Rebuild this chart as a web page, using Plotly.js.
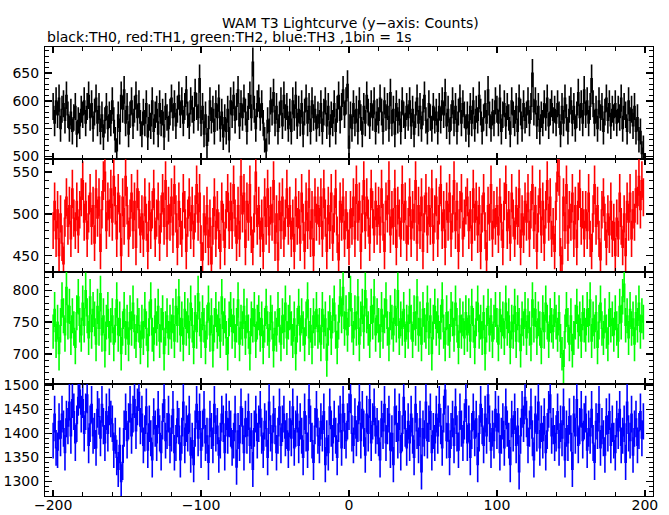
<!DOCTYPE html>
<html>
<head>
<meta charset="utf-8">
<script src="https://cdn.plot.ly/plotly-3.0.1.min.js"></script>
<style>html,body{margin:0;padding:0;background:#fff;}#chart{width:669px;height:515px;}</style>
</head>
<body>
<div id="chart"></div>
<script>
// Bin start time (s), 1 bin = 1 s
const tStart = -200;
const nBins = 400;

// TH0 counts (black)
const th0 = [
590,560,600,575,605,550,585,595,565,610,575,550,580,545,570,590,540,565,555,585,
575,600,560,590,610,570,595,550,580,605,560,590,545,575,535,565,590,550,575,560,
600,565,530,510,575,545,610,585,620,560,590,540,575,600,555,585,610,570,595,560,
540,580,560,595,535,570,555,600,545,575,585,540,595,560,580,535,590,570,550,580,
605,570,595,555,585,610,575,600,560,590,620,575,555,600,585,565,615,590,570,640,
560,590,540,575,520,550,600,565,585,545,595,570,605,550,580,535,570,545,585,530,
600,575,610,565,590,620,555,595,570,605,580,545,590,610,570,670,585,550,595,605,
570,595,560,530,510,565,545,600,580,615,560,590,545,575,600,555,610,570,590,550,
580,545,600,570,610,555,585,560,595,540,580,605,560,590,545,600,570,585,550,575,
560,595,545,580,600,555,590,540,575,560,595,545,585,610,565,590,620,575,600,630,
515,575,550,595,560,585,545,600,570,540,590,560,610,580,555,595,570,600,545,580,
565,605,580,545,600,570,590,550,615,560,585,540,595,565,580,545,600,575,555,590,
570,600,555,585,540,575,605,560,590,550,580,610,565,545,595,570,550,590,565,580,
545,590,565,600,575,615,555,585,545,570,600,560,590,545,580,605,560,595,575,550,
575,540,590,560,600,550,585,565,610,580,545,570,595,560,620,575,550,580,560,600,
585,560,605,545,575,595,555,590,570,540,600,575,560,590,545,605,580,550,595,565,
575,600,560,590,650,580,600,555,590,545,575,560,595,570,605,555,580,595,565,585,
560,595,575,540,590,560,605,570,545,585,600,560,590,550,575,615,570,595,560,620,
575,600,560,590,640,595,560,585,550,600,570,590,545,580,605,565,595,555,585,570,
595,560,585,570,605,550,590,575,545,600,565,585,555,590,545,570,530,545,505,515
];

// TH1 counts (red)
const th1 = [
480,515,470,505,450,500,465,440,495,520,485,510,470,530,495,480,515,475,505,520,
540,490,515,470,500,525,485,510,465,530,495,520,455,505,540,550,480,515,495,530,
490,545,510,470,525,500,450,520,485,545,510,470,495,525,480,515,460,530,505,475,
500,470,520,490,455,515,480,505,530,470,495,515,465,500,525,485,540,470,510,490,
520,475,535,500,460,515,485,470,525,505,455,495,520,480,510,470,500,535,490,525,
465,445,500,475,510,460,495,440,485,520,470,505,480,455,515,490,460,505,525,480,
515,480,535,495,465,510,470,545,500,525,460,515,490,535,475,460,500,550,485,510,
470,495,455,520,485,530,475,510,490,540,465,500,445,515,480,520,470,495,530,485,
510,470,495,455,520,485,505,465,525,490,455,515,480,530,470,505,450,520,490,510,
485,520,470,530,495,455,510,480,525,465,500,530,475,445,515,490,520,470,505,480,
460,505,485,520,470,535,490,515,455,500,540,480,520,495,465,530,505,475,515,485,
510,475,530,490,455,515,500,540,475,505,485,530,460,510,495,470,535,490,515,465,
485,520,470,505,490,540,465,510,480,520,455,500,525,475,510,485,530,465,500,520,
470,510,535,480,505,460,515,490,525,470,500,540,480,515,455,505,525,470,495,510,
520,480,505,465,530,490,515,475,510,455,500,525,480,445,510,490,535,470,505,485,
510,475,520,490,460,515,535,480,505,465,525,495,470,510,485,530,460,500,475,515,
490,525,470,505,535,480,510,455,500,530,475,515,465,505,540,490,520,470,485,455,
515,550,545,450,440,520,480,535,465,505,490,525,470,510,460,515,530,485,505,470,
505,480,525,470,455,500,535,485,510,470,445,505,520,490,460,500,475,515,470,490,
450,495,470,525,485,460,500,450,515,490,525,470,505,490,530,510,545,505,540,520
];

// TH2 counts (green)
const th2 = [
735,770,720,750,700,745,785,760,730,805,750,775,725,760,740,710,765,790,745,730,
780,745,800,760,725,790,735,770,755,715,775,740,795,730,760,705,750,770,725,745,
760,715,745,785,730,755,700,740,770,725,750,715,765,740,780,735,720,760,745,710,
750,725,770,740,705,755,785,730,715,760,740,775,720,745,765,700,740,760,725,750,
735,760,720,775,745,790,730,755,715,770,740,760,725,780,745,710,765,735,795,755,
720,765,745,710,750,780,730,760,705,745,770,735,755,720,790,740,760,725,700,755,
770,735,760,720,745,785,715,750,740,775,725,760,735,700,755,745,770,720,750,765,
730,755,710,745,775,740,720,765,750,705,740,730,770,745,715,760,735,780,725,750,
765,740,720,755,700,745,775,730,760,740,715,755,785,725,745,710,760,740,770,735,
745,715,770,735,755,690,740,765,725,760,780,735,710,750,790,760,805,740,765,730,
770,795,745,725,765,740,790,715,755,775,735,800,760,740,720,775,750,790,730,760,
745,720,770,735,760,785,740,715,765,750,730,775,745,800,725,755,740,770,720,750,
735,775,750,720,765,740,790,730,755,715,770,745,735,780,725,760,700,750,775,740,
760,725,750,785,735,715,765,740,720,770,755,730,780,745,710,760,735,755,725,765,
730,760,720,775,745,710,755,780,735,750,725,765,700,745,775,730,760,720,750,770,
745,715,770,735,755,725,780,740,760,710,750,735,775,720,765,745,705,755,740,770,
725,760,740,715,785,745,770,725,755,740,710,765,735,780,750,720,760,745,735,770,
750,730,765,720,700,680,735,770,745,715,760,705,725,750,775,735,755,720,765,745,
730,770,745,785,720,755,735,765,710,750,780,740,725,760,735,715,770,745,755,730,
765,740,720,775,750,790,810,745,760,725,770,740,755,715,765,745,780,735,760,750
];

// TH3 counts (blue)
const th3 = [
1385,1440,1370,1365,1425,1390,1440,1410,1360,1430,1415,1465,1395,1470,1445,1380,1420,1475,1490,1440,
1470,1400,1445,1480,1375,1420,1460,1395,1405,1370,1450,1435,1390,1460,1415,1380,1445,1400,1455,1430,
1420,1365,1395,1350,1325,1375,1300,1340,1410,1445,1385,1425,1460,1395,1440,1470,1405,1455,1485,1415,
1440,1375,1400,1455,1365,1420,1390,1345,1435,1410,1380,1450,1400,1360,1425,1470,1385,1405,1440,1375,
1400,1450,1360,1380,1430,1415,1345,1395,1465,1375,1420,1400,1440,1355,1385,1335,1410,1460,1390,1445,
1365,1410,1450,1380,1395,1340,1430,1405,1375,1460,1400,1415,1355,1385,1440,1420,1360,1445,1395,1430,
1410,1370,1385,1440,1330,1405,1380,1455,1415,1360,1430,1395,1445,1375,1405,1325,1410,1440,1385,1420,
1450,1395,1365,1425,1410,1350,1465,1400,1380,1440,1415,1360,1395,1455,1375,1420,1440,1390,1405,1365,
1430,1390,1455,1370,1410,1440,1375,1425,1395,1350,1445,1400,1365,1470,1420,1385,1340,1415,1450,1395,
1375,1425,1400,1445,1335,1390,1360,1455,1410,1380,1430,1395,1350,1420,1440,1370,1460,1405,1385,1425,
1445,1480,1400,1375,1435,1390,1420,1465,1385,1450,1410,1355,1440,1400,1470,1380,1425,1455,1395,1415,
1390,1345,1430,1405,1460,1380,1415,1440,1365,1400,1335,1455,1420,1385,1445,1360,1400,1475,1410,1370,
1425,1380,1440,1395,1350,1460,1405,1375,1430,1320,1410,1390,1465,1385,1420,1445,1360,1405,1380,1440,
1395,1460,1415,1370,1440,1490,1385,1420,1350,1405,1430,1375,1455,1400,1365,1445,1410,1380,1425,1470,
1380,1420,1350,1405,1445,1390,1430,1335,1400,1460,1415,1375,1440,1395,1480,1420,1365,1410,1385,1450,
1405,1440,1360,1395,1425,1370,1455,1410,1385,1335,1430,1400,1445,1375,1415,1320,1395,1450,1420,1475,
1430,1375,1410,1455,1390,1345,1440,1400,1465,1370,1420,1385,1435,1360,1405,1450,1480,1395,1415,1380,
1400,1445,1370,1420,1390,1455,1345,1410,1380,1435,1400,1325,1440,1395,1470,1375,1415,1450,1385,1425,
1440,1365,1410,1395,1450,1380,1340,1425,1405,1460,1370,1415,1390,1355,1435,1400,1445,1375,1420,1385,
1360,1430,1405,1450,1375,1395,1420,1340,1465,1400,1385,1440,1355,1410,1430,1375,1405,1445,1390,1425
];

const seriesNames = ['TH0','TH1','TH2','TH3'];
const seriesColors = ['#000000','#ff0000','#00ff00','#0000ff'];
const seriesData = [th0, th1, th2, th3];
const yRanges = [[495,697],[431,565.5],[652.6,830],[1270,1503]];
const xTickVals = [-200,-100,0,100,200];

const times = [];
for (let i = 0; i < nBins; i++) times.push(tStart + i);

const FONT = 'DejaVu Sans, Liberation Sans, Arial, sans-serif';
const traces = [];
seriesData.forEach((d, k) => {
  const n = k + 1;
  traces.push({
    type: 'scatter', mode: 'lines', name: seriesNames[k],
    x: times, y: d,
    xaxis: n === 1 ? 'x' : 'x' + n,
    yaxis: n === 1 ? 'y' : 'y' + n,
    line: {color: seriesColors[k], width: 1.2, shape: 'hvh'},
    error_y: {type: 'data', array: d.map(v => Math.sqrt(v)), visible: true,
              width: 0, thickness: 1.6, color: seriesColors[k]},
    hoverinfo: 'x+y', showlegend: false
  });
});

const layout = {
  width: 669, height: 515,
  margin: {l: 45, r: 16, t: 47, b: 19, pad: 0},
  paper_bgcolor: '#fff', plot_bgcolor: '#fff',
  showlegend: false,
  font: {family: FONT, size: 14, color: '#000'},
  annotations: [
    {text: 'WAM T3 Lightcurve (y\u2212axis: Counts)', xref: 'paper', yref: 'paper',
     x: 0.503, y: 1 + 24/449, xanchor: 'center', yanchor: 'middle', showarrow: false,
     font: {family: FONT, size: 14, color: '#000'}},
    {text: 'black:TH0, red:TH1, green:TH2, blue:TH3 ,1bin = 1s', xref: 'paper', yref: 'paper',
     x: 0, y: 1 + 9.5/449, xanchor: 'left', yanchor: 'middle', showarrow: false,
     font: {family: FONT, size: 14, color: '#000'}}
  ]
};

const domains = [[0.75,1],[0.5,0.75],[0.25,0.5],[0,0.25]];
for (let k = 0; k < 4; k++) {
  const n = k + 1;
  const xa = n === 1 ? 'xaxis' : 'xaxis' + n;
  const ya = n === 1 ? 'yaxis' : 'yaxis' + n;
  layout[xa] = {
    anchor: n === 1 ? 'y' : 'y' + n,
    range: [-205.5, 205.5],
    tickvals: xTickVals, ticktext: xTickVals.map(v => v < 0 ? '\u2212' + Math.abs(v) : String(v)),
    ticks: 'inside', ticklen: 6, tickwidth: 2, tickcolor: '#000',
    minor: {dtick: 20, tick0: 0, ticks: 'inside', ticklen: 4, tickwidth: 1, tickcolor: '#000'},
    showticklabels: n === 4,
    ticklabelstandoff: -4,
    showline: true, linewidth: 1, linecolor: '#000', mirror: 'allticks',
    showgrid: false, zeroline: false,
    tickfont: {family: FONT, size: 14, color: '#000'}
  };
  layout[ya] = {
    domain: domains[k],
    anchor: n === 1 ? 'x' : 'x' + n,
    range: yRanges[k],
    dtick: 50, tick0: 0,
    ticks: 'inside', ticklen: 7, tickwidth: 1.5, tickcolor: '#000',
    minor: {dtick: 10, ticks: 'inside', ticklen: 4, tickwidth: 1, tickcolor: '#000'},
    showline: true, linewidth: 1, linecolor: '#000', mirror: 'allticks',
    showgrid: false, zeroline: false,
    ticklabelstandoff: 2,
    tickfont: {family: FONT, size: 14, color: '#000'}
  };
}
layout.xaxis.matches = 'x4';
layout.xaxis2.matches = 'x4';
layout.xaxis3.matches = 'x4';

Plotly.newPlot('chart', traces, layout, {displayModeBar: false, staticPlot: true});
</script>
</body>
</html>
